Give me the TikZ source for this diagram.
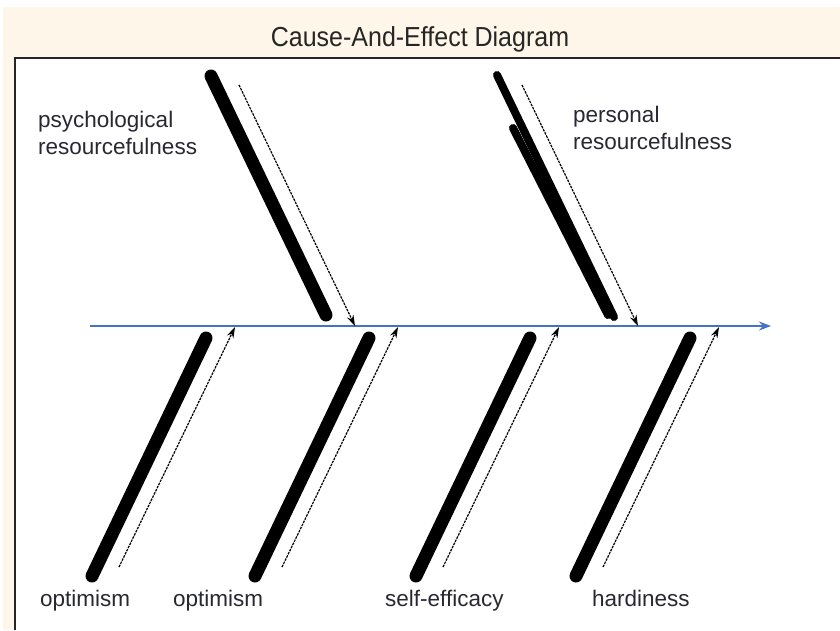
\documentclass[tikz,border=0pt]{standalone}
\usepackage{fontspec}
\setmainfont{Liberation Sans}
\usetikzlibrary{arrows.meta}
\definecolor{bgbeige}{RGB}{254,246,232}
\definecolor{spineblue}{RGB}{68,114,196}
\definecolor{labelgray}{RGB}{40,40,50}
\begin{document}
\begin{tikzpicture}[x=1pt,y=-1pt,
  bone/.style={line width=13pt,black,line cap=round},
  thinbone/.style={line width=8pt,black,line cap=round},
  causearrow/.style={line width=1.2pt,black,dash pattern=on 2.5pt off 1pt,-{Stealth[length=11pt,width=7pt]}},
  spine/.style={line width=1.8pt,spineblue,-{Stealth[length=12pt,width=9pt]}},
  lbl/.style={inner sep=0pt,font=\fontsize{22.5}{26.5}\selectfont,text=labelgray,align=left},
  ttl/.style={inner sep=0pt,font=\fontsize{25}{30}\selectfont,text=black!85}
]
\useasboundingbox (0,0) rectangle (840,630);
\fill[white] (0,0) rectangle (840,630);
\fill[bgbeige] (3,7) rectangle (840,630);
\fill[white] (15,58) rectangle (840,630);
\draw[line width=1.6pt,black!85] (840,58) -- (15,58) -- (15,630);

% title
\node[ttl,anchor=base,yscale=1.1] (title) at (420,46) {Cause-And-Effect Diagram};

% spine
\coordinate (s0) at (90,326);
\coordinate (s1) at (771,326);
\draw[spine] (s0) -- (s1);

% upper bone 1
\coordinate (u1a) at (211,76);
\coordinate (u1b) at (326,315);
\draw[bone] (u1a) -- (u1b);
\coordinate (u1s) at (239,85);
\coordinate (u1e) at (355,326);
\draw[causearrow] (u1s) -- (u1e);

% upper bone 2
\coordinate (u2a) at (497,75);
\coordinate (u2b) at (614,317);
\coordinate (u2c) at (513,128);
\coordinate (u2d) at (608,315);
\draw[thinbone] (u2a) -- (u2b);
\draw[thinbone] (u2c) -- (u2d);
\coordinate (u2s) at (522,85);
\coordinate (u2e) at (638,326);
\draw[causearrow] (u2s) -- (u2e);

% lower bones
\foreach \i/\dx in {1/0,2/163,3/324,4/484}{
  \coordinate (l\i a) at (206+\dx,338);
  \coordinate (l\i b) at (92+\dx,576);
  \draw[bone] (l\i a) -- (l\i b);
  \coordinate (l\i s) at (119+\dx,567);
  \coordinate (l\i e) at (235+\dx,327);
  \draw[causearrow] (l\i s) -- (l\i e);
}

% labels
\node[lbl,anchor=north west] (psy) at (38,111) {psychological\\resourcefulness};
\node[lbl,anchor=north west] (per) at (573,106) {personal\\resourcefulness};
\node[lbl,anchor=base west] (opt1) at (40,606) {optimism};
\node[lbl,anchor=base west] (opt2) at (173,606) {optimism};
\node[lbl,anchor=base west] (self) at (385,606) {self-efficacy};
\node[lbl,anchor=base west] (hard) at (592,606) {hardiness};
\end{tikzpicture}
\end{document}
